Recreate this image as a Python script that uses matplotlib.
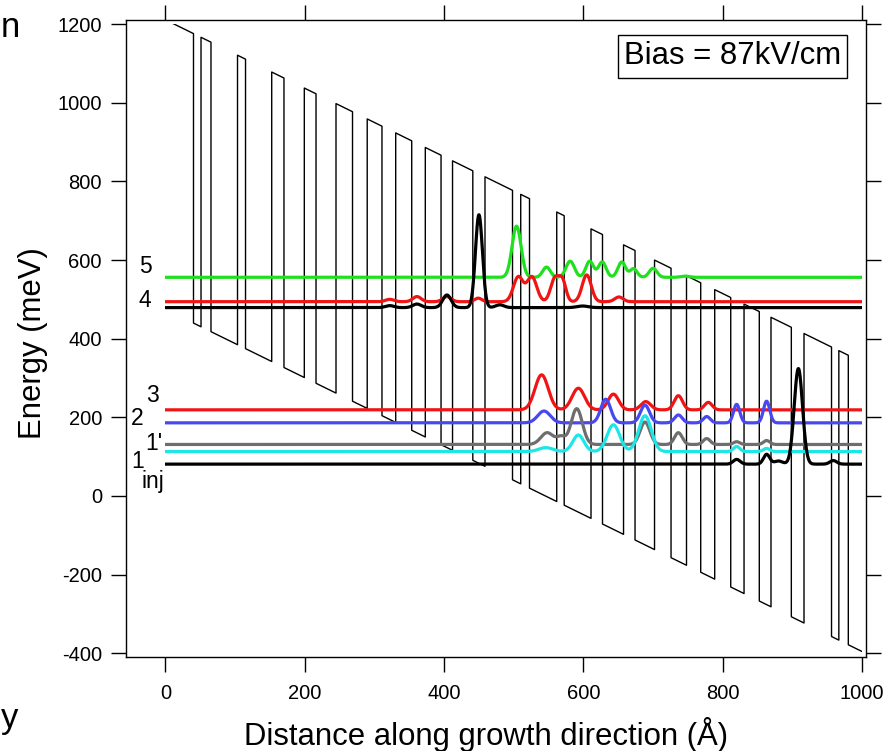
import matplotlib
matplotlib.use("Agg")
import matplotlib.pyplot as plt
from matplotlib.transforms import Bbox, TransformedBbox
import numpy as np

plt.rcParams['font.family'] = ['Liberation Sans', 'DejaVu Sans']
plt.rcParams['axes.unicode_minus'] = False

# %%
# conduction band: layer interfaces along the growth axis (Å), first layer is a barrier
interfaces = [0, 40.2, 51.0, 65.3, 103.4, 114.9, 152.5, 170.1, 199.3, 216.1,
              244.8, 268.5, 289.6, 310.8, 330.5, 353.5, 373.0, 395.6, 412.1, 441.2,
              458.7, 498.2, 510.0, 522.6, 561.7, 572.4, 610.9, 627.4, 657.6, 674.1,
              702.1, 725.8, 748.0, 768.4, 788.5, 811.5, 830.6, 852.5, 869.3, 898.5,
              916.7, 956.2, 966.7, 980.3, 1000]
bias_kv_cm = 87
barrier_top_at_0 = 1210.6   # meV
band_offset = 736           # meV

# subband energies (meV)
levels = {'5': 556, '4': 494, 'up': 479, '3': 219, '2': 186, "1'": 131, '1': 113, 'inj': 81}

# |psi|^2 lobes: (position Å, height meV, half width Å)
psi_5 = [(504, 130, 6.5), (547, 26, 5.5), (581, 41, 6), (609, 41, 5.5), (627, 39, 5.5),
         (655, 39, 5.5), (672, 22, 5), (700, 23, 5.5), (746, 3, 6)]
psi_4 = [(322, 6, 6), (361, 13, 6), (404, 13, 6), (449, 9, 5), (506.5, 63, 7),
         (526, 63, 7), (559, 59, 6), (570, 50, 5), (604.7, 68, 6.5), (651, 12, 6)]
psi_up = [(322, 5, 6), (361, 9, 6), (404, 32, 6), (450, 236, 5), (480, 7, 6), (599, 4, 8)]
psi_3 = [(540, 89, 9.5), (592.7, 55, 9), (643, 40, 7.5), (689.6, 21, 7), (736.3, 36, 6),
         (779.3, 19, 5.5)]
psi_2 = [(543.4, 30, 9), (632, 60, 7), (688.4, 45, 6.5), (736.3, 20, 5.5), (777, 16, 5),
         (820, 47, 4.5), (863, 55, 4.5)]
psi_1p = [(548, 30, 9), (568, 18, 6), (590.4, 91, 8), (688.4, 57, 7), (736.3, 30, 5.5),
          (777, 15, 5), (820, 7, 4.5), (863, 10, 4.5)]
psi_1 = [(546, 10, 10), (592.7, 42, 8), (643, 68, 9), (688.4, 91, 9), (820, 13, 4.5),
         (863, 8, 4.5)]
psi_inj = [(820, 12, 5), (863, 25, 4.5), (880, 8, 6), (908.6, 243, 6), (958.8, 9, 5)]

# %%
slope = bias_kv_cm * 0.01   # meV per Å
cb_x, cb_e = [], []
for i in range(len(interfaces) - 1):
    x0, x1 = interfaces[i], interfaces[i + 1]
    drop = 0 if i % 2 == 0 else band_offset
    cb_x += [x0, x1]
    cb_e += [barrier_top_at_0 - slope * x0 - drop, barrier_top_at_0 - slope * x1 - drop]

z = np.linspace(0, 1000, 5001)


def density(lobes):
    out = np.zeros_like(z)
    for c, h, w in lobes:
        out += h * np.exp(-0.5 * ((z - c) / w) ** 2)
    return out


fig = plt.figure(figsize=(8.96, 7.51), dpi=100)
ax = fig.add_axes([126 / 896, 1 - 656.7 / 751, 740 / 896, 636.7 / 751])
ax.set_xlim(-56.7, 1005.7)
ax.set_ylim(-408.6, 1210.2)
plot_area = TransformedBbox(Bbox([[0, -400], [1000, 1200]]), ax.transData)

cb_line, = ax.plot(cb_x, cb_e, color='black', lw=1.0)
cb_line.set_clip_box(plot_area)

states = [('5', psi_5, '#1fe01f'), ('4', psi_4, '#f01414'), ('3', psi_3, '#f01414'),
          ('2', psi_2, '#4848f0'), ("1'", psi_1p, '#6e6e6e'), ('1', psi_1, '#1ee6e6'),
          ('up', psi_up, 'black'), ('inj', psi_inj, 'black')]
for name, lobes, col in states:
    ln, = ax.plot(z, levels[name] + density(lobes), color=col, lw=2.3)
    ln.set_clip_box(plot_area)

# state labels
for txt, lx, ly in [('5', -29.4, 566), ('4', -29.4, 481), ('3', -18.7, 240), ('2', -40.2, 180.5),
                    ("1'", -16.5, 117), ('1', -40.2, 71), ('inj', -17.9, 20)]:
    ax.text(lx, ly, txt, fontsize=16.5, ha='center', va='baseline', clip_on=False)

ax.set_xticks(range(0, 1001, 200))
ax.set_yticks(range(-400, 1201, 200))
ax.tick_params(direction='out', length=10.8, width=1.0, labelsize=14.5,
               top=True, right=True, labeltop=False, labelright=False)
ax.tick_params(axis='x', pad=8.5)
ax.tick_params(axis='y', pad=6.5)
for s in ax.spines.values():
    s.set_linewidth(1.0)

fig.text(485.5 / 896, 1 - 745 / 751, 'Distance along growth direction (Å)',
         ha='center', va='baseline', fontsize=22.4)
fig.text(33 / 896, 1 - 343 / 751, 'Energy (meV)', rotation=90,
         ha='center', va='center', fontsize=22.4)
fig.text(732.5 / 896, 1 - 56.5 / 751, 'Bias = 87kV/cm', ha='center', va='center', fontsize=22.4,
         bbox=dict(boxstyle='square,pad=0.2', fc='white', ec='black', lw=1.0))

# stray letters at the left edge
fig.text(1 / 896, 1 - 37 / 751, 'n', fontsize=25, va='baseline', ha='left')
fig.text(1 / 896, 1 - 728 / 751, 'y', fontsize=25, va='baseline', ha='left')

fig.savefig('out.png', dpi=100)
